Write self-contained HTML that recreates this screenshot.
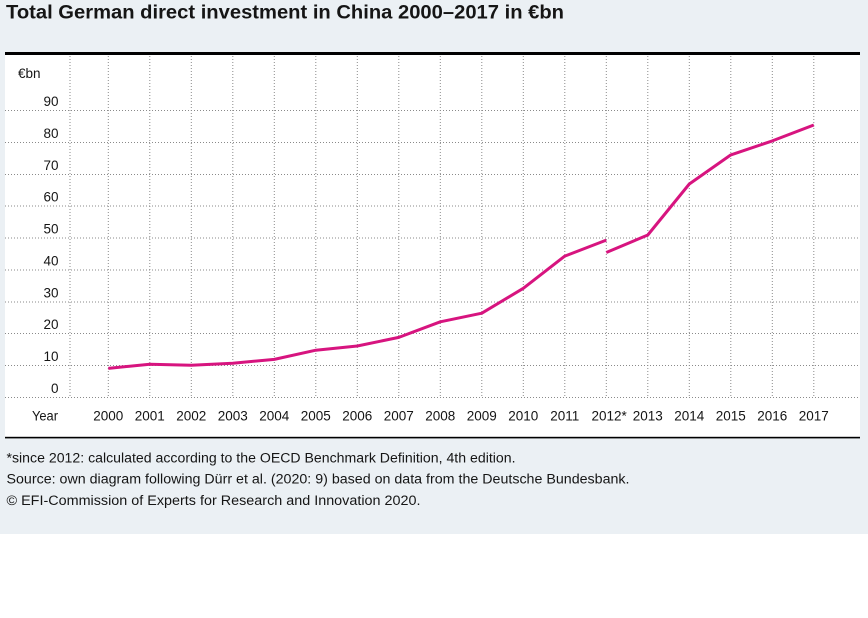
<!DOCTYPE html>
<html><head><meta charset="utf-8"><style>
html,body{margin:0;padding:0;background:#fff;}
svg{display:block;}
text{font-family:"Liberation Sans","DejaVu Sans",sans-serif;fill:#151515;}
</style></head><body>
<svg width="868" height="618" viewBox="0 0 868 618" xmlns="http://www.w3.org/2000/svg">
<rect x="0" y="0" width="868" height="534" fill="#ebf0f4"/>
<rect x="5" y="54" width="855" height="384" fill="#ffffff"/>
<text x="6" y="18.5" font-size="19" font-weight="bold" textLength="558" lengthAdjust="spacingAndGlyphs">Total German direct investment in China 2000–2017 in €bn</text>
<rect x="5" y="52" width="855" height="3" fill="#000"/>
<rect x="5" y="436.8" width="855" height="1.6" fill="#000"/>
<g stroke="#8a8a8a" stroke-width="1" stroke-dasharray="1,2" fill="none">
<line x1="5" y1="397.5" x2="860" y2="397.5"/>
<line x1="5" y1="365.5" x2="860" y2="365.5"/>
<line x1="5" y1="333.5" x2="860" y2="333.5"/>
<line x1="5" y1="302" x2="860" y2="302"/>
<line x1="5" y1="270" x2="860" y2="270"/>
<line x1="5" y1="238" x2="860" y2="238"/>
<line x1="5" y1="206" x2="860" y2="206"/>
<line x1="5" y1="174.5" x2="860" y2="174.5"/>
<line x1="5" y1="142.5" x2="860" y2="142.5"/>
<line x1="5" y1="110.5" x2="860" y2="110.5"/>
<line x1="70" y1="56" x2="70" y2="398"/>
<line x1="108.3" y1="56" x2="108.3" y2="398"/>
<line x1="149.8" y1="56" x2="149.8" y2="398"/>
<line x1="191.3" y1="56" x2="191.3" y2="398"/>
<line x1="232.8" y1="56" x2="232.8" y2="398"/>
<line x1="274.3" y1="56" x2="274.3" y2="398"/>
<line x1="315.8" y1="56" x2="315.8" y2="398"/>
<line x1="357.3" y1="56" x2="357.3" y2="398"/>
<line x1="398.8" y1="56" x2="398.8" y2="398"/>
<line x1="440.3" y1="56" x2="440.3" y2="398"/>
<line x1="481.8" y1="56" x2="481.8" y2="398"/>
<line x1="523.3" y1="56" x2="523.3" y2="398"/>
<line x1="564.8" y1="56" x2="564.8" y2="398"/>
<line x1="606.3" y1="56" x2="606.3" y2="398"/>
<line x1="647.8" y1="56" x2="647.8" y2="398"/>
<line x1="689.3" y1="56" x2="689.3" y2="398"/>
<line x1="730.8" y1="56" x2="730.8" y2="398"/>
<line x1="772.3" y1="56" x2="772.3" y2="398"/>
<line x1="813.8" y1="56" x2="813.8" y2="398"/>
</g>
<g font-size="13.5" text-anchor="end">
<text x="58.5" y="393">0</text>
<text x="58.5" y="361">10</text>
<text x="58.5" y="329">20</text>
<text x="58.5" y="297.5">30</text>
<text x="58.5" y="265.5">40</text>
<text x="58.5" y="233.5">50</text>
<text x="58.5" y="201.5">60</text>
<text x="58.5" y="170">70</text>
<text x="58.5" y="138">80</text>
<text x="58.5" y="106">90</text>
</g>
<text x="18" y="78" font-size="13.5">€bn</text>
<g font-size="13.5" text-anchor="middle">
<text x="108.3" y="420.5">2000</text>
<text x="149.8" y="420.5">2001</text>
<text x="191.3" y="420.5">2002</text>
<text x="232.8" y="420.5">2003</text>
<text x="274.3" y="420.5">2004</text>
<text x="315.8" y="420.5">2005</text>
<text x="357.3" y="420.5">2006</text>
<text x="398.8" y="420.5">2007</text>
<text x="440.3" y="420.5">2008</text>
<text x="481.8" y="420.5">2009</text>
<text x="523.3" y="420.5">2010</text>
<text x="564.8" y="420.5">2011</text>
<text x="647.8" y="420.5">2013</text>
<text x="689.3" y="420.5">2014</text>
<text x="730.8" y="420.5">2015</text>
<text x="772.3" y="420.5">2016</text>
<text x="813.8" y="420.5">2017</text>
</g>
<text x="591.5" y="420.5" font-size="13.5">2012*</text>
<text x="32" y="420.5" font-size="13.5" textLength="26" lengthAdjust="spacingAndGlyphs">Year</text>
<g fill="none" stroke="#d7147f" stroke-width="3" stroke-linejoin="round" stroke-linecap="butt">
<polyline points="108.3,368.4 149.8,364.2 191.3,365.2 232.8,363.2 274.3,359.4 315.8,350.2 357.3,346 398.8,337.4 440.3,321.8 481.8,313.2 523.3,288.3 564.8,256.1 606.3,240.1"/>
<polyline points="606.3,252.5 647.8,235 689.3,184 730.8,154.9 772.3,140.9 813.8,125"/>
</g>
<text x="6.5" y="462.3" font-size="13.5" textLength="509" lengthAdjust="spacingAndGlyphs">*since 2012: calculated according to the OECD Benchmark Definition, 4th edition.</text>
<text x="6.5" y="483.5" font-size="13.5" textLength="623" lengthAdjust="spacingAndGlyphs">Source: own diagram following Dürr et al. (2020: 9) based on data from the Deutsche Bundesbank.</text>
<text x="6.5" y="505" font-size="13.5" textLength="414" lengthAdjust="spacingAndGlyphs">© EFI-Commission of Experts for Research and Innovation 2020.</text>
</svg>
</body></html>
